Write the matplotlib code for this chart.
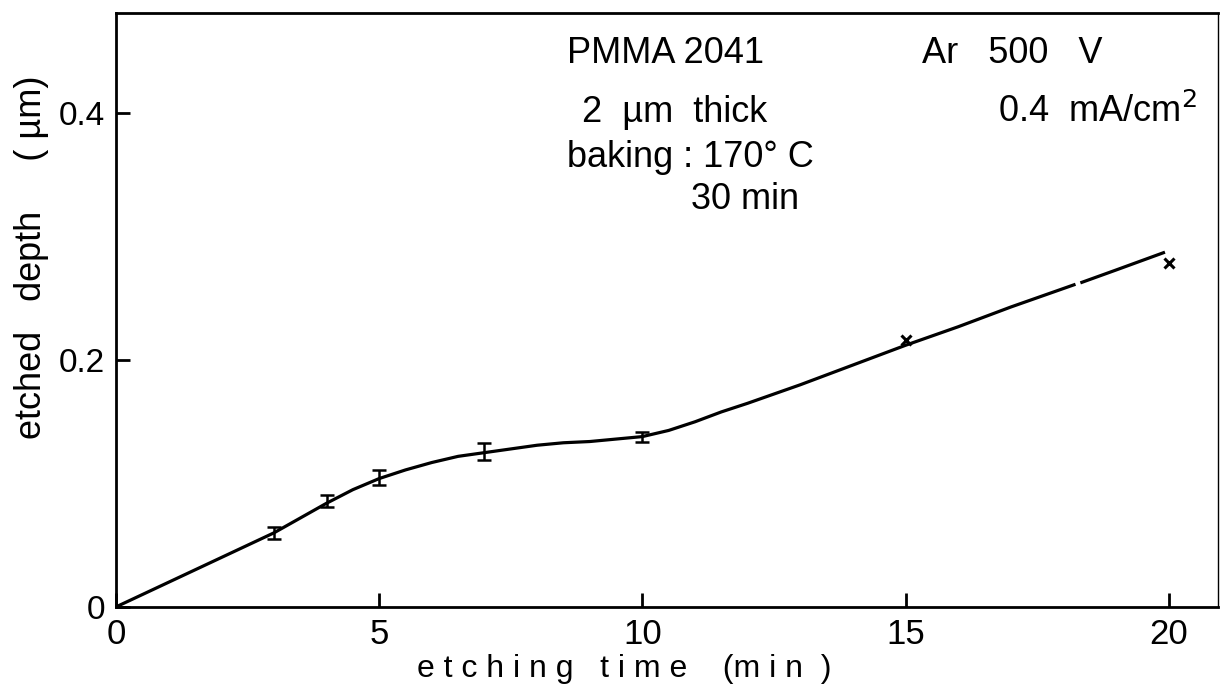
import matplotlib
matplotlib.use('Agg')
import matplotlib.pyplot as plt
import numpy as np

plt.rcParams['font.family'] = ['Liberation Sans', 'DejaVu Sans']

# measured points
time_err = [3, 4, 5, 7, 10]
depth_err = [0.060, 0.086, 0.105, 0.126, 0.138]
err = [0.005, 0.005, 0.006, 0.007, 0.004]

time_x = [15, 20]
depth_x = [0.216, 0.279]

# hand drawn fit curve (nan = small gap in the drawn line)
curve_t = [0, 1, 2, 3, 4, 4.5, 5, 5.5, 6, 6.5, 7, 7.5, 8, 8.5, 9, 9.5, 10,
           10.5, 11, 11.5, 12, 13, 14, 15, 16, 17, 18.2, np.nan, 18.35, 19, 19.9]
curve_d = [0, 0.020, 0.040, 0.060, 0.084, 0.095, 0.104, 0.111, 0.117, 0.122,
           0.125, 0.128, 0.131, 0.133, 0.134, 0.136, 0.138, 0.143, 0.150,
           0.158, 0.165, 0.180, 0.196, 0.212, 0.227, 0.243, 0.261, np.nan,
           0.263, 0.273, 0.287]

xticks = [0, 5, 10, 15, 20]
yticks = [0, 0.2, 0.4]
ytick_labels = ['0', '0.2', '0.4']

fig = plt.figure(figsize=(12.2, 7), dpi=100)
ax = fig.add_axes([0.0951, 0.133, 0.903, 0.848])

ax.plot(curve_t, curve_d, color='black', lw=2.3)
ax.errorbar(time_err, depth_err, yerr=err, fmt='none', ecolor='black',
            elinewidth=1.8, capsize=5, capthick=1.8)
ax.plot(time_x, depth_x, 'x', color='black', ms=7, mew=2.2)

ax.set_xlim(0, 20.93)
ax.set_ylim(0, 0.481)
ax.set_xticks(xticks)
ax.set_yticks(yticks)
ax.set_yticklabels(ytick_labels)
ax.tick_params(direction='in', length=10, width=2, pad=8)
ax.tick_params(axis='x', labelsize=25)
ax.tick_params(axis='y', labelsize=24)
for s in ax.spines.values():
    s.set_linewidth(2)
ax.spines['right'].set_linewidth(1)

fig.text(0.512, 0.045, 'e t c h i n g   t i m e    (m i n  )', ha='center',
         va='center', fontsize=23)
fig.text(0.026, 0.632, 'etched   depth     ( \u00b5m)', ha='center',
         va='center', rotation=90, fontsize=26)

fs = 26
fig.text(0.465, 0.924, 'PMMA 2041', fontsize=fs, va='center')
fig.text(0.477, 0.84, '2  \u00b5m  thick', fontsize=fs, va='center')
fig.text(0.465, 0.775, 'baking : 170\u00b0 C', fontsize=fs, va='center')
fig.text(0.566, 0.715, '30 min', fontsize=fs, va='center')
fig.text(0.756, 0.924, 'Ar   500   V', fontsize=fs, va='center')
fig.text(0.818, 0.84, '0.4  mA/cm$^2$', fontsize=fs, va='center')

fig.savefig('out.png', dpi=100)
